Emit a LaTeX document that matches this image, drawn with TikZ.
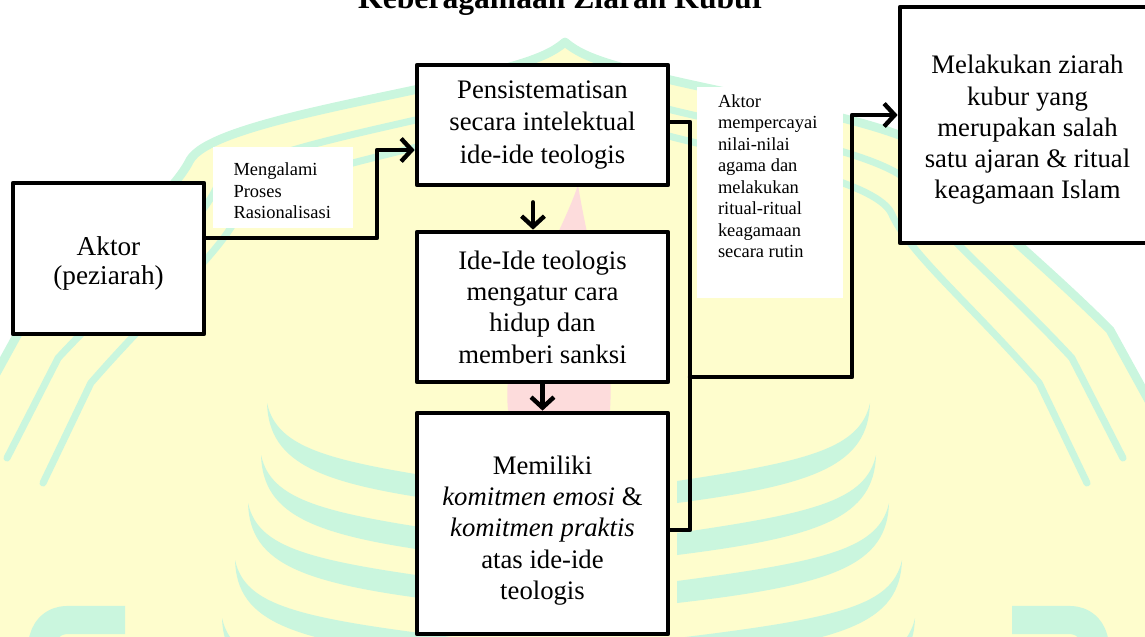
\documentclass[tikz,border=0pt]{standalone}
\usepackage{fontspec}
\setmainfont{Liberation Serif}
\usetikzlibrary{arrows.meta,positioning}

\definecolor{kuningwm}{HTML}{FEFDCD}
\definecolor{hijauwm}{HTML}{CAF6DE}
\definecolor{merahwm}{HTML}{FDDCDC}

\tikzset{
  kotak/.style={draw, line width=2.7pt, fill=white, align=center, inner sep=0pt,
    font=\fontsize{15.2}{17.8}\selectfont},
  ket/.style={fill=white, inner sep=0pt, font=\fontsize{10.5}{12.25}\selectfont},
  alur/.style={line width=2.5pt, ->},
  garis/.style={line width=2.5pt},
  bulu/.style={fill=hijauwm},
}

% garis kubah (relatif terhadap puncak)
\newcommand{\kubahpath}{(-600,388) -- (-545,288) .. controls (-465,208) and (-395,158) .. (-375,118)
  .. controls (-355,83) and (-185,58) .. (-85,33) .. controls (-35,20) and (-15,13) .. (0,0)
  .. controls (15,13) and (35,20) .. (85,33) .. controls (185,58) and (355,83) .. (375,118)
  .. controls (395,158) and (465,208) .. (545,288) -- (600,388)}
% teks kotak yang sedikit turun
\newcommand{\isiturun}[3]{\parbox{#1}{\centering\vspace{#2}#3}}

\begin{document}
\begin{tikzpicture}[x=0.02cm, y=-0.02cm, >={Straight Barb[length=6pt,width=13pt]}, line join=round, line cap=round]
	\useasboundingbox (0,0) rectangle (1145,636);
	\clip (0,0) rectangle (1145,636);
	% latar (logo samar)
	\fill[kuningwm, shift={(565,42)}] \kubahpath -- (600,620) -- (-600,620) -- cycle;
	\draw[hijauwm, line width=5pt, shift={(565,42)}] \kubahpath;
	\draw[hijauwm, line width=4pt, shift={(565,70)}, xscale=0.93] \kubahpath;
	\draw[hijauwm, line width=4pt, shift={(565,95)}, xscale=0.87] \kubahpath;
	\fill[merahwm] (578,185) .. controls (560,240) and (500,330) .. (508,410)
		.. controls (530,440) and (590,440) .. (610,410) .. controls (615,330) and (590,260) .. (578,185);
	\foreach \sx/\sy in {267/403, 261/455, 248/503, 235/560, 222/618}{
		\fill[bulu] (\sx,\sy) .. controls (\sx+10,\sy+45) and (\sx+60,\sy+58) .. (460,\sy+78)
			-- (460,\sy+100) .. controls (\sx+55,\sy+82) and (\sx+2,\sy+62) .. (\sx,\sy);
		\fill[bulu, shift={(1137,0)}, xscale=-1] (\sx,\sy) .. controls (\sx+10,\sy+45) and (\sx+60,\sy+58) .. (460,\sy+78)
			-- (460,\sy+100) .. controls (\sx+55,\sy+82) and (\sx+2,\sy+62) .. (\sx,\sy);
	}
	\draw[hijauwm, line width=16pt, line cap=butt] (125,620) -- (68,620) .. controls (52,620) and (44,630) .. (42,645);
	\draw[hijauwm, line width=16pt, line cap=butt] (1012,620) -- (1069,620) .. controls (1085,620) and (1093,630) .. (1095,645);
	% judul
	\node[font=\fontsize{18}{22}\selectfont\bfseries, anchor=base] (judul) at (562,8) {Keberagamaan Ziarah Kubur};
	% kotak
	\node[kotak, minimum width=3.82cm, minimum height=3.02cm, font=\fontsize{15.5}{17}\selectfont] (aktor) at (108.5,258.5)
		{\isiturun{3.5cm}{0.2cm}{Aktor\\(peziarah)}};
	\node[kotak, minimum width=5.02cm, minimum height=2.4cm, font=\fontsize{15.2}{18.7}\selectfont] (sistem) at (542.5,125)
		{Pensistematisan\\secara intelektual\\ide-ide teologis};
	\node[kotak, minimum width=5.02cm, minimum height=3.0cm] (ide) at (542.5,307)
		{Ide-Ide teologis\\mengatur cara\\hidup dan\\memberi sanksi};
	\node[kotak, minimum width=5.02cm, minimum height=4.42cm] (komit) at (542.5,523.5)
		{\isiturun{4.8cm}{0.28cm}{Memiliki\\\textit{komitmen emosi} \&\\\textit{komitmen praktis}\\atas ide-ide\\teologis}};
	\node[kotak, minimum width=5.1cm, minimum height=4.72cm] (ziarah) at (1027.5,125)
		{\isiturun{4.8cm}{0.2cm}{Melakukan ziarah\\kubur yang\\merupakan salah\\satu ajaran \& ritual\\keagamaan Islam}};
	% keterangan
	\node[ket, minimum width=2.8cm] (rasional) at (283,187.5)
		{\parbox[c][1.62cm][t]{1.98cm}{\raggedright\vspace{0.32cm}Mengalami\\Proses\\Rasionalisasi}};
	\node[ket, minimum width=2.92cm] (percaya) at (770,192.5)
		{\parbox[c][4.22cm][t]{2.08cm}{\raggedright\vspace{0.15cm}Aktor\\mempercayai\\nilai-nilai\\agama dan\\melakukan\\ritual-ritual\\keagamaan\\secara rutin}};
	% alur
	\coordinate (b1) at (377,238);
	\coordinate (b2) at (377,150);
	\draw[alur] (aktor.east |- b1) -- (b1) -- (b2) -- (sistem.west |- b2);
	\draw[alur] ([xshift=-0.19cm,yshift=-0.3cm]sistem.south) -- ([xshift=-0.19cm]ide.north);
	\draw[alur] (ide.south) -- (komit.north);
	\coordinate (k1) at (690,122);
	\coordinate (k2) at (690,530);
	\draw[garis] (sistem.east |- k1) -- (k1) -- (k2) -- (komit.east |- k2);
	\coordinate (k3) at (690,377);
	\coordinate (k4) at (852,377);
	\coordinate (k5) at (852,115);
	\draw[alur] (k3) -- (k4) -- (k5) -- (ziarah.west |- k5);
\end{tikzpicture}
\end{document}
